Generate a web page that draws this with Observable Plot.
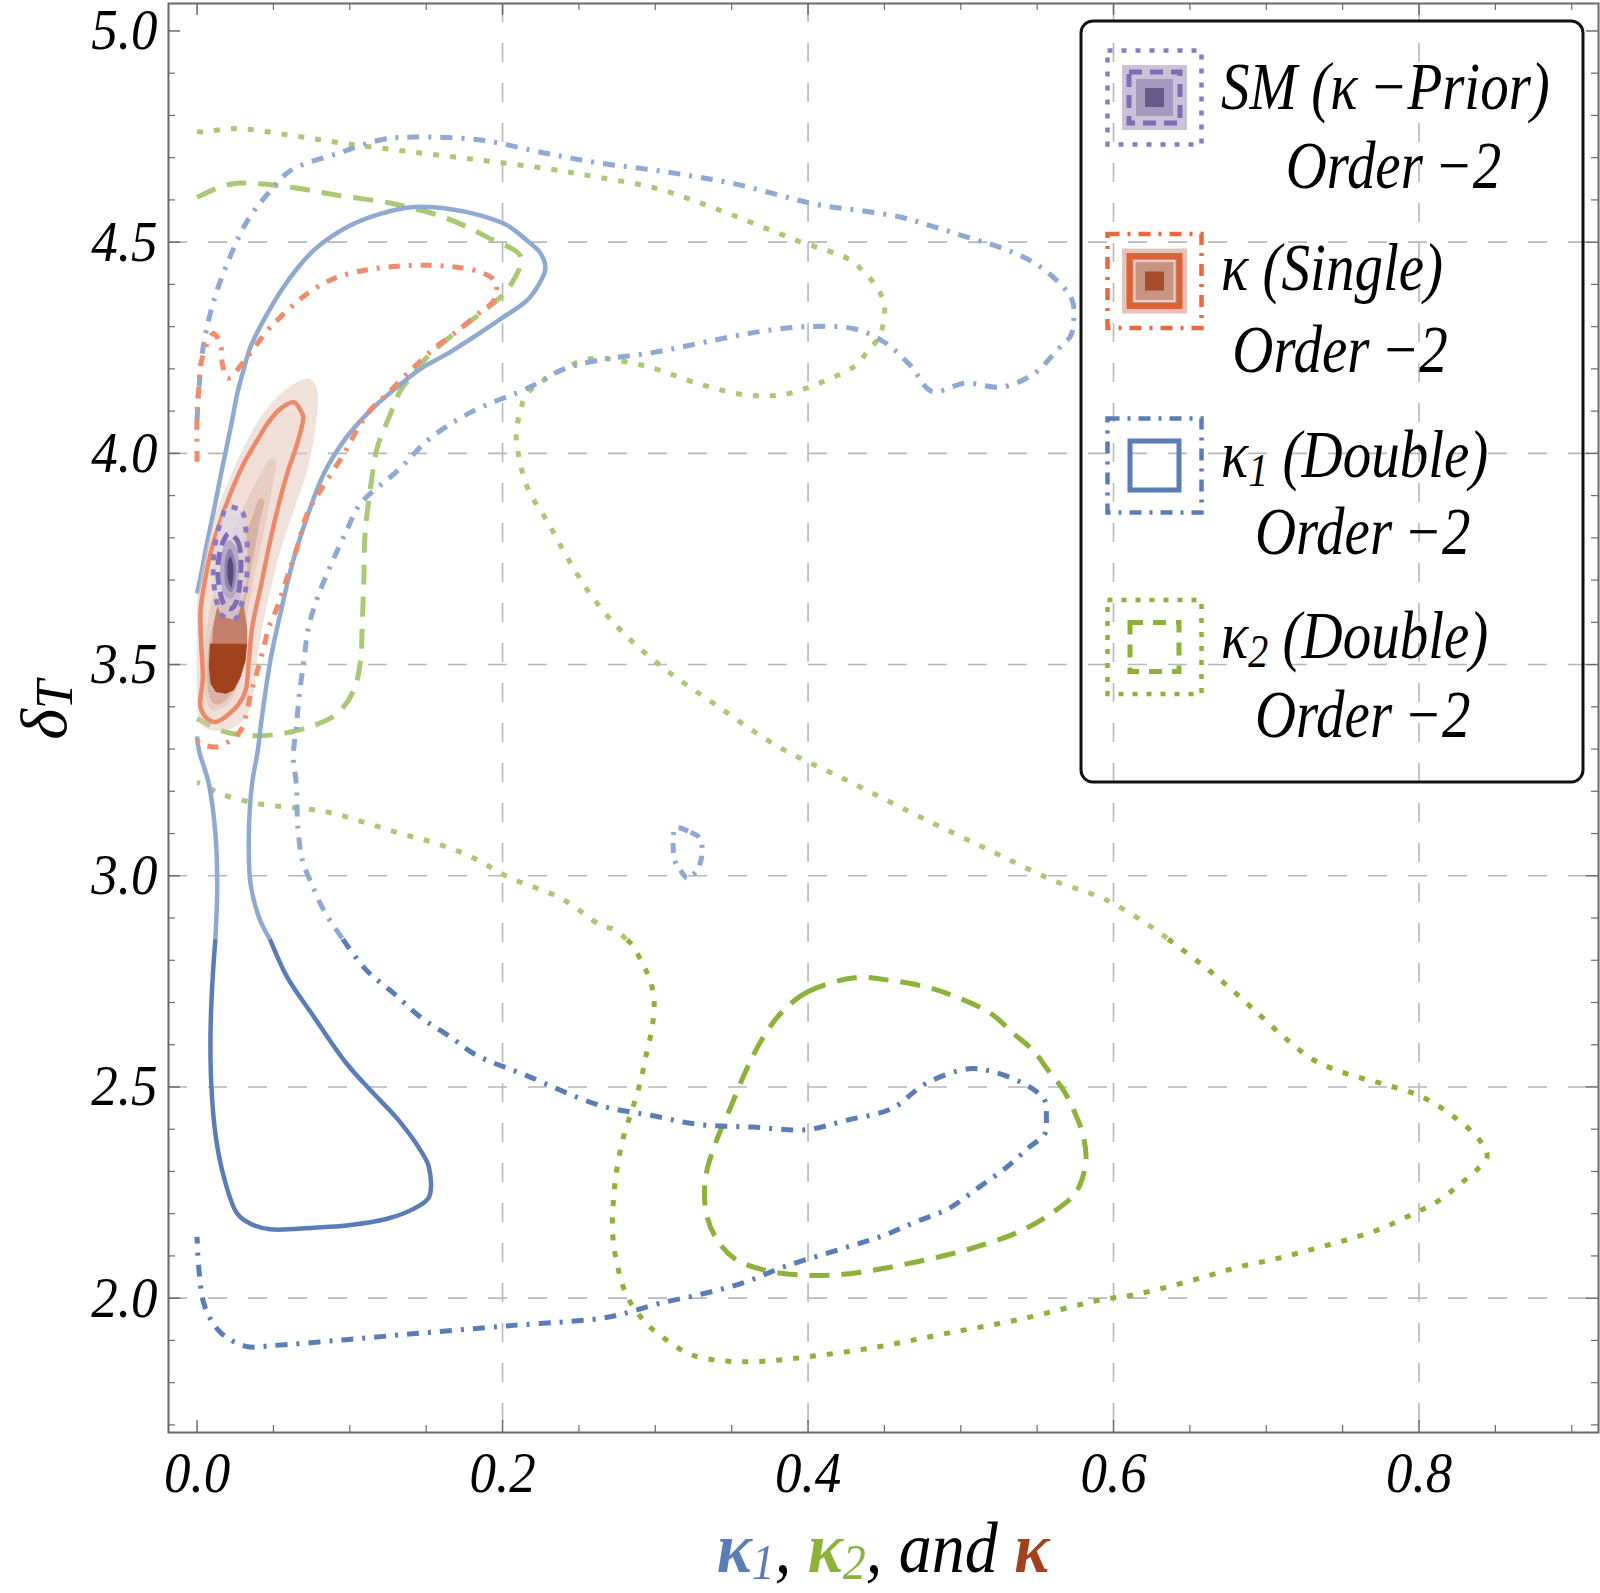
<!DOCTYPE html>
<html><head><meta charset="utf-8">
<script src="https://cdn.jsdelivr.net/npm/d3@7"></script>
<script src="https://cdn.jsdelivr.net/npm/@observablehq/plot@0.6"></script>
<style>body{margin:0;background:#fff;}</style>
</head><body><div id="chart"></div>
<script>
// ---------- tick / grid values ----------
const xTicks = [0.0, 0.2, 0.4, 0.6, 0.8];
const yTicks = [2.0, 2.5, 3.0, 3.5, 4.0, 4.5, 5.0];
const xGrid = [0.2, 0.4, 0.6, 0.8];
const yGrid = [2.0, 2.5, 3.0, 3.5, 4.0, 4.5];

// ---------- contour data [kappa, deltaT] ----------
// kappa1 (Double) 68% - solid blue
const kappa1_68 = [[0.000,3.668],[0.0023,3.707],[0.0062,3.782],[0.011,3.865],[0.0154,3.946],[0.0198,4.023],[0.0232,4.083],[0.0263,4.141],[0.0304,4.197],[0.035,4.252],[0.046,4.331],[0.0612,4.417],[0.0765,4.481],[0.0983,4.536],[0.120,4.567],[0.142,4.583],[0.164,4.579],[0.186,4.563],[0.203,4.540],[0.216,4.504],[0.225,4.473],[0.228,4.437],[0.224,4.402],[0.216,4.362],[0.199,4.319],[0.181,4.275],[0.164,4.236],[0.148,4.204],[0.131,4.157],[0.1136,4.102],[0.098,4.039],[0.083,3.952],[0.072,3.849],[0.063,3.747],[0.055,3.628],[0.048,3.510],[0.0416,3.352],[0.0398,3.297],[0.036,3.218],[0.0339,3.100],[0.035,2.981],[0.0405,2.902],[0.048,2.847],[0.059,2.760],[0.0765,2.666],[0.098,2.555],[0.1136,2.492],[0.132,2.421],[0.1463,2.350],[0.1518,2.310],[0.1518,2.239],[0.142,2.212],[0.1245,2.188],[0.098,2.172],[0.0765,2.167],[0.048,2.163],[0.035,2.176],[0.0263,2.200],[0.0175,2.287],[0.012,2.389],[0.0093,2.508],[0.0088,2.626],[0.010,2.745],[0.012,2.851],[0.0132,2.981],[0.012,3.100],[0.0077,3.218],[0.0012,3.297],[0.000,3.330]];
// kappa1 (Double) 95% - dot-dashed blue
const kappa1_95 = [[0.000,4.08],[0.001,4.143],[0.004,4.251],[0.011,4.362],[0.022,4.469],[0.033,4.551],[0.045,4.609],[0.061,4.669],[0.092,4.710],[0.120,4.742],[0.142,4.749],[0.185,4.742],[0.229,4.710],[0.262,4.688],[0.306,4.667],[0.352,4.638],[0.406,4.589],[0.434,4.575],[0.461,4.559],[0.482,4.537],[0.504,4.512],[0.527,4.486],[0.548,4.451],[0.566,4.398],[0.573,4.362],[0.574,4.319],[0.572,4.279],[0.564,4.248],[0.548,4.189],[0.527,4.157],[0.503,4.166],[0.481,4.147],[0.467,4.208],[0.450,4.263],[0.430,4.295],[0.399,4.300],[0.366,4.287],[0.332,4.263],[0.299,4.239],[0.262,4.220],[0.239,4.198],[0.218,4.157],[0.179,4.097],[0.152,4.034],[0.132,3.961],[0.107,3.881],[0.098,3.818],[0.088,3.739],[0.079,3.660],[0.073,3.589],[0.070,3.510],[0.067,3.431],[0.065,3.352],[0.063,3.281],[0.065,3.218],[0.066,3.115],[0.069,3.036],[0.074,2.989],[0.083,2.918],[0.096,2.847],[0.111,2.776],[0.129,2.721],[0.146,2.666],[0.166,2.618],[0.183,2.575],[0.215,2.528],[0.264,2.456],[0.297,2.433],[0.329,2.411],[0.364,2.405],[0.399,2.399],[0.425,2.421],[0.455,2.449],[0.477,2.508],[0.505,2.543],[0.522,2.535],[0.545,2.500],[0.555,2.468],[0.556,2.429],[0.555,2.389],[0.545,2.358],[0.530,2.310],[0.512,2.263],[0.492,2.212],[0.470,2.180],[0.450,2.149],[0.422,2.117],[0.384,2.074],[0.359,2.038],[0.332,2.011],[0.302,1.987],[0.279,1.963],[0.264,1.952],[0.205,1.935],[0.139,1.915],[0.092,1.900],[0.050,1.888],[0.032,1.886],[0.015,1.920],[0.005,1.981],[0.001,2.077],[0.000,2.145]];
// small 95% island of kappa1
const kappa1_95_island = [[0.3132,3.114],[0.3231,3.103],[0.329,3.090],[0.3307,3.061],[0.3296,3.033],[0.3264,3.009],[0.321,2.994],[0.3165,3.013],[0.3126,3.037],[0.3117,3.066],[0.3119,3.097]];
// kappa2 (Double) 95% - dotted green
const kappa2_95 = [[0.000,4.762],[0.0023,4.761],[0.0263,4.769],[0.0612,4.753],[0.098,4.733],[0.142,4.713],[0.186,4.694],[0.229,4.674],[0.262,4.654],[0.300,4.628],[0.339,4.580],[0.392,4.505],[0.428,4.457],[0.4365,4.429],[0.4442,4.398],[0.4496,4.358],[0.4496,4.315],[0.4464,4.275],[0.4387,4.240],[0.431,4.208],[0.410,4.170],[0.385,4.140],[0.360,4.138],[0.330,4.163],[0.292,4.208],[0.2576,4.224],[0.238,4.196],[0.216,4.141],[0.2118,4.102],[0.209,4.046],[0.211,3.986],[0.217,3.913],[0.229,3.841],[0.242,3.756],[0.259,3.659],[0.279,3.575],[0.306,3.490],[0.339,3.406],[0.379,3.309],[0.426,3.225],[0.473,3.140],[0.519,3.060],[0.560,2.990],[0.5956,2.942],[0.628,2.871],[0.6556,2.796],[0.675,2.738],[0.6925,2.681],[0.711,2.620],[0.7305,2.565],[0.752,2.532],[0.7755,2.508],[0.7997,2.480],[0.820,2.437],[0.8388,2.378],[0.8446,2.336],[0.8376,2.303],[0.8285,2.275],[0.819,2.247],[0.810,2.224],[0.7988,2.204],[0.787,2.184],[0.7755,2.165],[0.7535,2.139],[0.7294,2.115],[0.7063,2.093],[0.682,2.074],[0.659,2.050],[0.6348,2.026],[0.6118,2.007],[0.593,1.997],[0.540,1.951],[0.4897,1.916],[0.4445,1.884],[0.3995,1.861],[0.372,1.851],[0.3468,1.851],[0.3243,1.865],[0.3093,1.896],[0.2942,1.940],[0.2817,2.003],[0.2754,2.074],[0.2721,2.153],[0.2729,2.247],[0.2754,2.318],[0.2797,2.389],[0.2854,2.452],[0.2905,2.516],[0.2942,2.579],[0.298,2.642],[0.2992,2.705],[0.2967,2.752],[0.2917,2.792],[0.2842,2.839],[0.2742,2.871],[0.2642,2.883],[0.2387,2.946],[0.205,2.995],[0.180,3.044],[0.157,3.076],[0.1332,3.100],[0.109,3.127],[0.0852,3.151],[0.0634,3.161],[0.0394,3.171],[0.0154,3.194],[0.0023,3.218],[0.000,3.220]];
// kappa2 (Double) 68% - dashed green (upper piece and lower closed loop)
const kappa2_68_upper = [[0.000,4.606],[0.015,4.630],[0.028,4.640],[0.0612,4.630],[0.0918,4.611],[0.127,4.592],[0.1616,4.559],[0.190,4.512],[0.212,4.465],[0.207,4.409],[0.1987,4.370],[0.1856,4.331],[0.168,4.283],[0.1507,4.228],[0.140,4.181],[0.1332,4.149],[0.1267,4.094],[0.118,4.014],[0.1136,3.920],[0.110,3.810],[0.1092,3.707],[0.1081,3.589],[0.107,3.510],[0.1026,3.439],[0.0918,3.384],[0.0765,3.356],[0.0547,3.336],[0.0329,3.332],[0.0154,3.344],[0.0023,3.368],[0.000,3.372]];
const kappa2_68_lower = [[0.432,2.759],[0.3995,2.725],[0.382,2.674],[0.3694,2.610],[0.3594,2.539],[0.3493,2.452],[0.3393,2.366],[0.333,2.287],[0.333,2.208],[0.3393,2.145],[0.3518,2.094],[0.372,2.066],[0.3995,2.054],[0.427,2.058],[0.4546,2.074],[0.4896,2.101],[0.517,2.129],[0.5398,2.160],[0.5623,2.208],[0.5761,2.255],[0.5819,2.326],[0.5798,2.389],[0.5749,2.437],[0.5673,2.492],[0.5573,2.539],[0.5473,2.587],[0.5347,2.626],[0.5197,2.674],[0.4971,2.713],[0.4771,2.737],[0.4546,2.752]];
// kappa (Single) 95% - dot-dashed orange, 68% - solid orange
const kappa_95 = [[0.000,3.980],[0.000,4.095],[0.001,4.149],[0.003,4.220],[0.0108,4.284],[0.0154,4.256],[0.0165,4.213],[0.020,4.178],[0.0329,4.228],[0.046,4.291],[0.0547,4.323],[0.0721,4.378],[0.0918,4.417],[0.1157,4.437],[0.142,4.445],[0.1638,4.443],[0.1856,4.429],[0.1954,4.406],[0.1943,4.362],[0.1856,4.335],[0.168,4.283],[0.155,4.248],[0.142,4.204],[0.1245,4.141],[0.1114,4.094],[0.0961,3.999],[0.0808,3.912],[0.0721,3.857],[0.0656,3.778],[0.059,3.707],[0.0525,3.636],[0.047,3.589],[0.0437,3.541],[0.0383,3.470],[0.035,3.431],[0.0329,3.392],[0.0285,3.344],[0.022,3.321],[0.0132,3.305],[0.0023,3.313],[0.000,3.321]];
const kappa_68 = [[0.0027,3.550],[0.0038,3.470],[0.0023,3.399],[0.0067,3.372],[0.0121,3.364],[0.0198,3.380],[0.0274,3.407],[0.0318,3.439],[0.0339,3.510],[0.0361,3.589],[0.0416,3.683],[0.047,3.778],[0.0525,3.865],[0.059,3.952],[0.0655,4.023],[0.0695,4.086],[0.0677,4.102],[0.0634,4.121],[0.0547,4.106],[0.046,4.070],[0.0394,4.031],[0.0306,3.976],[0.0219,3.905],[0.0154,3.841],[0.0099,3.778],[0.0056,3.707],[0.0023,3.628]];
// kappa (Single) density levels (outer to inner)
const kappaDens1 = [[0.0787,4.149],[0.0776,4.062],[0.0721,3.960],[0.0634,3.865],[0.0547,3.771],[0.0481,3.676],[0.0427,3.589],[0.0394,3.510],[0.0361,3.415],[0.0307,3.368],[0.0219,3.348],[0.0110,3.344],[0.0023,3.360],[0.000,3.431],[0.000,3.550],[0.0001,3.652],[0.0045,3.747],[0.0110,3.842],[0.0197,3.928],[0.0307,4.015],[0.0416,4.086],[0.0547,4.141],[0.0656,4.169],[0.0721,4.177],[0.0754,4.173]];
const kappaDens2 = [[0.0023,3.550],[0.0029,3.470],[0.0040,3.407],[0.0077,3.382],[0.0121,3.376],[0.0187,3.390],[0.0252,3.414],[0.0296,3.443],[0.0318,3.510],[0.0339,3.589],[0.0394,3.684],[0.0448,3.779],[0.0503,3.865],[0.0568,3.952],[0.0634,4.023],[0.0667,4.082],[0.0634,4.106],[0.0558,4.094],[0.0470,4.058],[0.0405,4.019],[0.0318,3.964],[0.0237,3.897],[0.0171,3.834],[0.0117,3.775],[0.0073,3.704],[0.0040,3.629]];
const kappaDens3 = [[0.0045,3.510],[0.0056,3.423],[0.0088,3.396],[0.0132,3.392],[0.0187,3.403],[0.0241,3.427],[0.0274,3.455],[0.0296,3.518],[0.0318,3.597],[0.0361,3.684],[0.0416,3.779],[0.0464,3.865],[0.0503,3.944],[0.0514,3.983],[0.0481,3.987],[0.0416,3.952],[0.0339,3.897],[0.0263,3.842],[0.0197,3.779],[0.0132,3.708],[0.0084,3.629],[0.0056,3.565]];
const kappaDens4 = [[0.0067,3.494],[0.0077,3.431],[0.0110,3.407],[0.0154,3.407],[0.0208,3.423],[0.0252,3.451],[0.0274,3.510],[0.0296,3.597],[0.0328,3.676],[0.0372,3.763],[0.0416,3.849],[0.0438,3.889],[0.0411,3.893],[0.0361,3.849],[0.0296,3.794],[0.0230,3.739],[0.0165,3.676],[0.0110,3.605],[0.0077,3.542]];
const kappaDens5Upper = [[0.0099,3.550],[0.0328,3.550],[0.0328,3.589],[0.0307,3.636],[0.0274,3.668],[0.0219,3.676],[0.0165,3.668],[0.0128,3.629],[0.0106,3.589]];
const kappaDens5Lower = [[0.0084,3.550],[0.0328,3.550],[0.0318,3.510],[0.0285,3.470],[0.0241,3.439],[0.0187,3.431],[0.0121,3.435],[0.0088,3.455],[0.0077,3.494]];
// SM (kappa-Prior) contours and density
const sm_95 = [[0.0219,3.873],[0.0296,3.861],[0.0317,3.826],[0.0329,3.778],[0.0329,3.731],[0.0317,3.676],[0.0285,3.636],[0.0252,3.609],[0.0165,3.616],[0.0121,3.664],[0.0106,3.715],[0.011,3.762],[0.0132,3.810],[0.0165,3.849],[0.0186,3.869]];
const sm_68 = [[0.0208,3.810],[0.0263,3.794],[0.0285,3.763],[0.0285,3.715],[0.0274,3.676],[0.0252,3.644],[0.0219,3.632],[0.0175,3.644],[0.0149,3.676],[0.0136,3.715],[0.0143,3.754],[0.0165,3.786]];
const smDens2 = [[0.021,3.795],[0.026,3.775],[0.0275,3.735],[0.0265,3.69],[0.0225,3.655],[0.018,3.665],[0.0155,3.70],[0.0155,3.745],[0.0175,3.78]];
const smDens3 = [[0.0215,3.775],[0.025,3.745],[0.0252,3.705],[0.0225,3.672],[0.019,3.685],[0.018,3.72],[0.0188,3.757]];
const smDens4 = [[0.0219,3.755],[0.0236,3.735],[0.0236,3.707],[0.0223,3.683],[0.0204,3.699],[0.0198,3.727],[0.0204,3.747]];

// ---------- styles ----------
const blueDark = "#5a7db6", blueLight = "#8fa9d1";
const greenDark = "#8cb23a", greenLight = "#abc974";
const orangeDD = "#f08b6c", orangeSolid = "#eb8a6b";
const purpleDot = "#8a7bbf", purpleDash = "#7e6cb4";
const bandSplit = 2.85;

function banded(pts, name) {
  const out = []; let seg = 0, prev = null;
  const bandOf = p => p[1] > bandSplit ? "light" : "dark";
  function push(p, q, band) {
    if (band !== prev) { seg++; prev = band; out.push({k: p[0], d: p[1], seg: name + seg, band}); }
    out.push({k: q[0], d: q[1], seg: name + seg, band});
  }
  for (let i = 0; i < pts.length - 1; i++) {
    const a = pts[i], b = pts[i + 1], ba = bandOf(a), bb = bandOf(b);
    if (ba !== bb) {
      const t = (bandSplit - a[1]) / (b[1] - a[1]);
      const c = [a[0] + t * (b[0] - a[0]), bandSplit];
      push(a, c, ba); push(c, b, bb);
    } else push(a, b, ba);
  }
  return out;
}
function bandLine(pts, name, light, dark, opts) {
  return Plot.line(banded(pts, name), {x: "k", y: "d", z: "seg",
    stroke: d => d.band === "light" ? light : dark,
    curve: "catmull-rom", strokeLinecap: "butt", strokeLinejoin: "round", ...opts});
}
const px = d => d[0], py = d => d[1];
function fillPoly(pts, color, extra = {}) {
  return Plot.line(pts, {x: px, y: py, curve: "catmull-rom-closed", fill: color, stroke: "none", ...extra});
}

const W = 1600, H = 1593, mL = 168, mR = 2, mT = 3, mB = 161;
const plotW = W - mL - mR, plotH = H - mT - mB;
const tickColor = "#6a6a6a";
const serif = "'Liberation Serif', 'Times New Roman', serif";
const xMinor = d3.range(0, 0.92, 0.05).filter(v => Math.abs(v * 5 - Math.round(v * 5)) > 1e-6);
const yMinor = d3.range(1.7, 5.05, 0.1).filter(v => Math.abs(v * 2 - Math.round(v * 2)) > 1e-6);

const plot = Plot.plot({
  width: W, height: H,
  marginLeft: mL, marginRight: mR, marginTop: mT, marginBottom: mB,
  x: {domain: [-0.0187, 0.9175]},
  y: {domain: [1.682, 5.065]},
  color: {type: "identity"},
  style: {fontFamily: serif, fontSize: "53px", fontStyle: "italic", background: "white", overflow: "visible", color: "black"},
  marks: [
    Plot.ruleX(xGrid, {x: d => d, stroke: "#b8b8b8", strokeWidth: 1.6, strokeDasharray: "19,21"}),
    Plot.ruleY(yGrid, {y: d => d, stroke: "#b8b8b8", strokeWidth: 1.6, strokeDasharray: "19,21"}),
    // kappa1 and kappa2 contours
    bandLine(kappa2_95, "g95", greenLight, greenDark, {strokeWidth: 5, strokeDasharray: "6,11"}),
    bandLine(kappa2_68_upper, "g68u", greenLight, greenDark, {strokeWidth: 5, strokeDasharray: "20,12"}),
    Plot.line(kappa2_68_lower, {x: px, y: py, curve: "catmull-rom-closed", stroke: greenDark, strokeWidth: 5, strokeDasharray: "20,12", strokeLinecap: "butt"}),
    bandLine(kappa1_95, "b95", blueLight, blueDark, {strokeWidth: 5, strokeDasharray: "12,9,3,9"}),
    Plot.line(kappa1_95_island, {x: px, y: py, curve: "catmull-rom-closed", stroke: blueLight, strokeWidth: 5, strokeDasharray: "10,8,3,8", strokeLinecap: "butt"}),
    bandLine(kappa1_68, "b68", blueLight, blueDark, {strokeWidth: 4.5}),
    // kappa (Single) density
    fillPoly(kappaDens1, "#e6c6b9", {fillOpacity: 0.5}),
    fillPoly(kappaDens2, "#efddd6", {fillOpacity: 0.95}),
    fillPoly(kappaDens3, "#e7cbc0", {fillOpacity: 0.95}),
    fillPoly(kappaDens4, "#d9b0a1", {fillOpacity: 0.95}),
    Plot.line(kappaDens5Upper, {x: px, y: py, curve: "linear-closed", fill: "#c47f6b", stroke: "none"}),
    Plot.line(kappaDens5Lower, {x: px, y: py, curve: "linear-closed", fill: "#a1421e", stroke: "none"}),
    Plot.line(kappa_95, {x: px, y: py, curve: "catmull-rom", stroke: orangeDD, strokeWidth: 5, strokeDasharray: "11,9,3,9", strokeLinecap: "butt"}),
    Plot.line(kappa_68, {x: px, y: py, curve: "catmull-rom-closed", stroke: orangeSolid, strokeWidth: 4.5}),
    // SM density and contours
    fillPoly(sm_95, "#dcd5e5", {fillOpacity: 0.75}),
    fillPoly(smDens2, "#b3aac9"),
    fillPoly(smDens3, "#8d82ad"),
    fillPoly(smDens4, "#564a7c"),
    Plot.line(sm_68, {x: px, y: py, curve: "catmull-rom-closed", stroke: purpleDash, strokeWidth: 5, strokeDasharray: "13,7", strokeLinecap: "butt"}),
    Plot.line(sm_95, {x: px, y: py, curve: "catmull-rom-closed", stroke: purpleDot, strokeWidth: 5, strokeDasharray: "6,9", strokeLinecap: "butt"}),
    // frame ticks (inward)
    Plot.tickX(xTicks, {x: d => d, insetTop: plotH - 12, stroke: tickColor, strokeWidth: 1.5}),
    Plot.tickX(xMinor, {x: d => d, insetTop: plotH - 7, stroke: tickColor, strokeWidth: 1.2}),
    Plot.tickX(xTicks, {x: d => d, insetBottom: plotH - 12, stroke: tickColor, strokeWidth: 1.5}),
    Plot.tickX(xMinor, {x: d => d, insetBottom: plotH - 7, stroke: tickColor, strokeWidth: 1.2}),
    Plot.tickY(yTicks, {y: d => d, insetRight: plotW - 12, stroke: tickColor, strokeWidth: 1.5}),
    Plot.tickY(yMinor, {y: d => d, insetRight: plotW - 7, stroke: tickColor, strokeWidth: 1.2}),
    Plot.tickY(yTicks, {y: d => d, insetLeft: plotW - 12, stroke: tickColor, strokeWidth: 1.5}),
    Plot.tickY(yMinor, {y: d => d, insetLeft: plotW - 7, stroke: tickColor, strokeWidth: 1.2}),
    Plot.frame({stroke: tickColor, strokeWidth: 2}),
    Plot.axisX(xTicks, {anchor: "bottom", tickSize: 0, tickPadding: 20, tickFormat: d3.format(".1f"), label: null}),
    Plot.axisY(yTicks, {anchor: "left", tickSize: 0, tickPadding: 11, tickFormat: d3.format(".1f"), label: null})
  ]
});
document.getElementById("chart").append(plot);
const svg = d3.select(plot);

// stretch tick-label glyphs slightly in height about their own centre (reference text is tall and narrow)
svg.selectAll("text").each(function() {
  const b = this.getBBox();
  const c = b.y + b.height / 2;
  const t = this.getAttribute("transform") || "";
  this.setAttribute("transform", `${t} translate(0,${c}) scale(1,1.08) translate(0,${-c})`);
});

// ---------- axis titles ----------
const xl = svg.append("text").attr("transform", "translate(883,1572) scale(1,1.1)").attr("text-anchor", "middle")
  .attr("font-family", serif).attr("font-style", "italic").attr("font-size", 66).attr("fill", "black");
xl.append("tspan").attr("fill", blueDark).attr("font-weight", "bold").text("κ");
xl.append("tspan").attr("fill", blueDark).attr("font-size", 46).attr("dy", 6).text("1");
xl.append("tspan").attr("dy", -6).text(", ");
xl.append("tspan").attr("fill", greenDark).attr("font-weight", "bold").text("κ");
xl.append("tspan").attr("fill", greenDark).attr("font-size", 46).attr("dy", 6).text("2");
xl.append("tspan").attr("dy", -6).text(", and ");
xl.append("tspan").attr("fill", "#a1421e").attr("font-weight", "bold").text("κ");

const yl = svg.append("text").attr("transform", "translate(66,710) rotate(-90)").attr("text-anchor", "middle")
  .attr("font-family", serif).attr("font-style", "italic").attr("font-size", 66).attr("fill", "black");
yl.append("tspan").text("δ");
yl.append("tspan").attr("font-size", 52).attr("dy", 6).text("T");

// ---------- legend ----------
const lg = svg.append("g");
lg.append("rect").attr("x", 1081).attr("y", 21).attr("width", 502).attr("height", 761).attr("rx", 12)
  .attr("fill", "none").attr("stroke", "#111").attr("stroke-width", 3);
function sq(cx, cy, s, attrs) {
  const r = lg.append("rect").attr("x", cx - s / 2).attr("y", cy - s / 2).attr("width", s).attr("height", s).attr("fill", "none");
  for (const k in attrs) r.attr(k, attrs[k]);
  return r;
}
const lx = 1154.5;
// SM
sq(lx, 97.5, 94, {stroke: purpleDot, "stroke-width": 4.5, "stroke-dasharray": "5,9"});
sq(lx, 97.5, 65, {fill: "#c9c3d8"});
sq(lx, 97.5, 51, {stroke: purpleDash, "stroke-width": 5, "stroke-dasharray": "13,8"});
sq(lx, 97.5, 37, {fill: "#a29bbd"});
sq(lx, 97.5, 19, {fill: "#655a88"});
// kappa single
sq(lx, 281, 94, {stroke: "#ea683e", "stroke-width": 4.5, "stroke-dasharray": "12,8,3,8"});
sq(lx, 281, 65, {fill: "#e3c4b8"});
sq(lx, 281, 50, {stroke: "#de6236", "stroke-width": 6, fill: "#c79383"});
sq(lx, 281, 40, {stroke: "#ebd0c6", "stroke-width": 2});
sq(lx, 281, 19, {fill: "#a44c2d"});
// kappa1
sq(lx, 465.5, 94, {stroke: blueDark, "stroke-width": 4.5, "stroke-dasharray": "12,8,3,8"});
sq(lx, 465.5, 49, {stroke: blueDark, "stroke-width": 5});
// kappa2
sq(lx, 647, 94, {stroke: greenDark, "stroke-width": 4.5, "stroke-dasharray": "5,9"});
sq(lx, 647, 49, {stroke: greenDark, "stroke-width": 5, "stroke-dasharray": "13,10"});

const legendScale = 1.17, legendSize = 57;
function legendText(y1, y2, parts) {
  const t = lg.append("text").attr("transform", `translate(1221,${y1}) scale(1,${legendScale})`)
    .attr("text-anchor", "start").attr("font-family", serif)
    .attr("font-style", "italic").attr("font-size", legendSize).attr("fill", "black");
  for (const p of parts) {
    const s = t.append("tspan").text(p.t);
    if (p.sub) s.attr("font-size", 40).attr("dy", 8);
    if (p.up) s.attr("dy", -8);
  }
  const w = t.node().getComputedTextLength();
  lg.append("text").attr("transform", `translate(${1221 + w / 2 + 8},${y2}) scale(1,${legendScale})`)
    .attr("text-anchor", "middle")
    .attr("font-family", serif).attr("font-style", "italic").attr("font-size", legendSize).attr("fill", "black")
    .text("Order\u2009−2");
}
legendText(109, 188, [{t: "SM (κ\u2009−Prior)"}]);
legendText(290, 372, [{t: "κ (Single)"}]);
legendText(477, 554, [{t: "κ"}, {t: "1", sub: true}, {t: " (Double)", up: true}]);
legendText(658, 737, [{t: "κ"}, {t: "2", sub: true}, {t: " (Double)", up: true}]);
</script></body></html>
